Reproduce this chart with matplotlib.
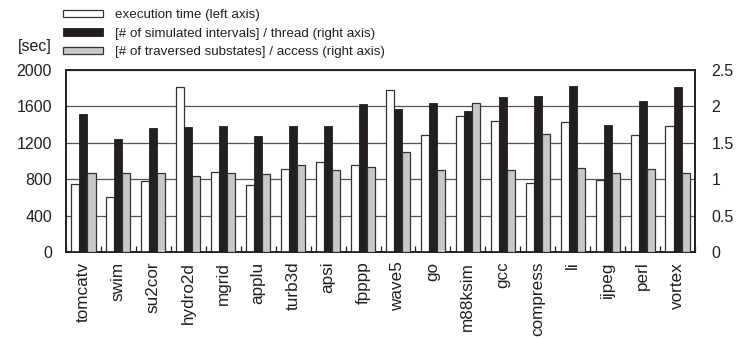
# Execution time vs. simulation statistics per SPEC benchmark
import numpy as np
import matplotlib.pyplot as plt

plt.rcParams['font.family'] = ['Liberation Sans', 'DejaVu Sans']

benchmarks = ['tomcatv', 'swim', 'su2cor', 'hydro2d', 'mgrid', 'applu', 'turb3d',
              'apsi', 'fpppp', 'wave5', 'go', 'm88ksim', 'gcc', 'compress', 'li',
              'ijpeg', 'perl', 'vortex']

# execution time [sec] (left axis)
exec_time = [742, 605, 775, 1816, 877, 734, 907, 984, 951, 1780,
             1281, 1490, 1435, 760, 1424, 786, 1281, 1387]
# [# of simulated intervals] / thread (right axis)
intervals = [1.90, 1.55, 1.71, 1.72, 1.73, 1.60, 1.73, 1.73, 2.03, 1.96,
             2.05, 1.94, 2.13, 2.14, 2.28, 1.74, 2.07, 2.27]
# [# of traversed substates] / access (right axis)
substates = [1.09, 1.09, 1.08, 1.05, 1.09, 1.07, 1.19, 1.13, 1.17, 1.37,
             1.12, 2.05, 1.12, 1.62, 1.16, 1.08, 1.14, 1.09]

left_ticks = [0, 400, 800, 1200, 1600, 2000]
right_ticks = [0, 0.5, 1, 1.5, 2, 2.5]

ink = '#231f20'
n = len(benchmarks)
x = np.arange(n)
w = 0.23

fig = plt.figure(figsize=(7.38, 3.39), dpi=100)
ax = fig.add_axes([66/738, 1-252/339, (695-66)/738, (252-70)/339])
ax2 = ax.twinx()

b1 = ax.bar(x - w, exec_time, w, color='white', edgecolor='#333333', linewidth=0.9, zorder=3)
b2 = ax2.bar(x, intervals, w, color=ink, edgecolor=ink, linewidth=0.6, zorder=3)
b3 = ax2.bar(x + w, substates, w, color='#c8c8c8', edgecolor='#333333', linewidth=0.9, zorder=3)

ax.set_xlim(-0.5, n - 0.5)
ax.set_ylim(0, 2000)
ax2.set_ylim(0, 2.5)
ax.set_yticks(left_ticks)
ax2.set_yticks(right_ticks)
ax2.set_yticklabels(['0', '0.5', '1', '1.5', '2', '2.5'])
ax.yaxis.grid(True, color='#555555', linewidth=0.9)
ax.set_axisbelow(True)

ax.set_xticks(x)
ax.set_xticklabels(benchmarks, rotation=90, fontsize=12.3, color=ink)
ax.set_xticks(np.arange(n + 1) - 0.5, minor=True)
ax.tick_params(axis='x', which='major', length=0, pad=7)
ax.tick_params(axis='x', which='minor', direction='in', length=4, width=0.9, color=ink)
ax.tick_params(axis='y', length=0, pad=10, labelsize=11.5, labelcolor=ink)
ax2.tick_params(axis='y', length=0, pad=12, labelsize=11.5, labelcolor=ink)

for a in (ax, ax2):
    for s in a.spines.values():
        s.set_color(ink)
        s.set_linewidth(1.2)

fig.text(18/738, 1-46/339, '[sec]', fontsize=11.5, color=ink, va='center', ha='left')

fig.legend([b1, b2, b3],
           ['execution time (left axis)',
            '[# of simulated intervals] / thread (right axis)',
            '[# of traversed substates] / access (right axis)'],
           loc='upper left', bbox_to_anchor=(54/738, 1 - 0/339), frameon=False,
           fontsize=9.6, handlelength=3.0, handleheight=0.45, handletextpad=0.9,
           labelspacing=0.48, borderpad=0.2, labelcolor=ink)

fig.savefig('out.png', dpi=100)
